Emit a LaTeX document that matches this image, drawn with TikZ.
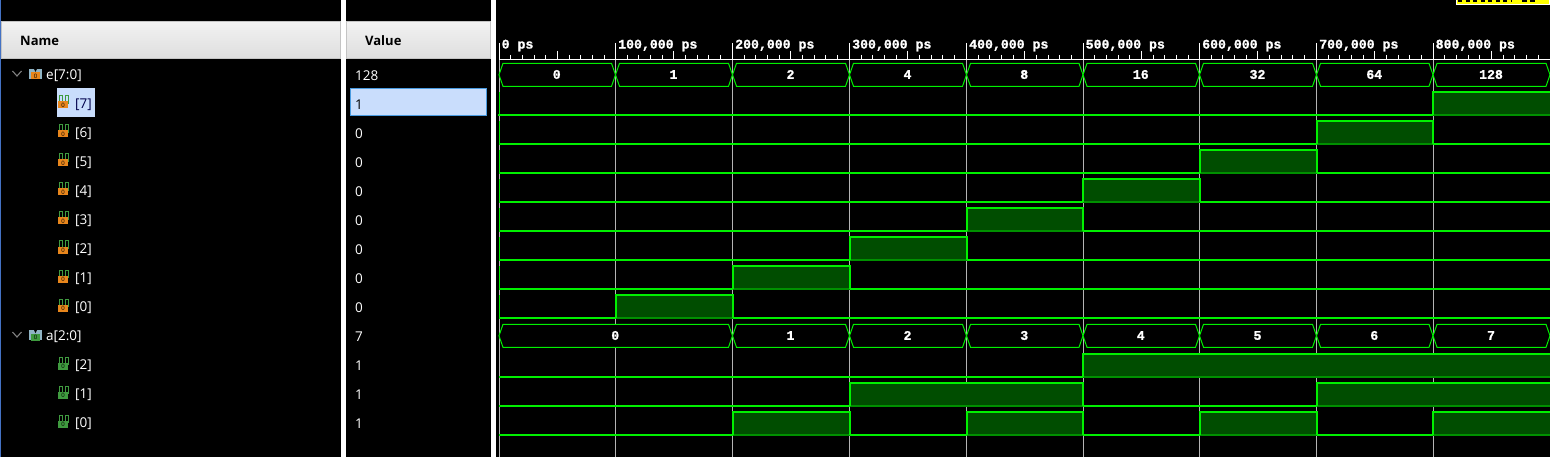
\documentclass[tikz,border=0pt]{standalone}
\usepackage{fontspec}
\setmainfont{Open Sans}
\newfontfamily\wavefont[BoldFeatures={FakeBold=1.2}]{Liberation Mono}
\usetikzlibrary{positioning}

\definecolor{wavegreen}{HTML}{00F000}
\definecolor{wavefill}{HTML}{004D00}
\definecolor{waveedge}{HTML}{009000}
\definecolor{gridgray}{HTML}{B4B4B4}
\definecolor{headtop}{HTML}{F2F2F2}
\definecolor{headbot}{HTML}{DEDEDE}
\definecolor{headline}{HTML}{C4C4C4}
\definecolor{selfill}{HTML}{C9DDFC}
\definecolor{selline}{HTML}{4A9BE0}
\definecolor{inorange}{HTML}{E8861C}
\definecolor{outgreen}{HTML}{3F9A3F}
\definecolor{busblue}{HTML}{8FB3C4}
\definecolor{cursor}{HTML}{FFFF00}
\definecolor{edgeblue}{HTML}{4472C4}

\tikzset{
  x=1pt,y=-1pt,
  headcell/.style={draw=headline,line width=1pt,top color=headtop,bottom color=headbot},
  headtext/.style={anchor=west,text=black,font=\fontsize{13}{15}\selectfont\bfseries},
  signame/.style={anchor=west,text=white,inner sep=0pt,font=\fontsize{13.5}{16}\selectfont},
  sigval/.style={anchor=west,text=white,inner sep=0pt,font=\fontsize{13.5}{16}\selectfont},
  timelab/.style={anchor=west,text=white,inner sep=0pt,font=\wavefont\fontsize{13.2}{15}\selectfont\bfseries},
  buslab/.style={text=white,inner sep=0pt,font=\wavefont\fontsize{13.2}{15}\selectfont\bfseries},
  lowline/.style={wavegreen,line width=1.2pt},
  chevron/.style={draw=gray,line width=1.1pt},
  pics/busicon/.style={code={
    \fill[busblue] (0,-6) rectangle (13,4);
    \fill[black] (5,-6) -- (6.5,-3) -- (8,-6) -- cycle;
    \node[fill=#1,minimum width=9pt,minimum height=7pt,inner sep=0pt,text=black,font=\fontsize{6}{6}\selectfont] at (6.5,1) {\ifx#1inorange I\else 0\fi};
  }},
  pics/biticon/.style={code={
    \draw[outgreen,line width=1pt] (1,1) -- (1,-7) -- (4,-7) -- (4,1);
    \draw[outgreen,line width=1pt] (7,1) -- (7,-7) -- (10,-7) -- (10,1);
    \node[fill=#1,minimum width=10pt,minimum height=7pt,inner sep=0pt,text=black,font=\fontsize{6}{6}\selectfont] at (5,2) {\ifx#1inorange I\else 0\fi};
  }},
}

\begin{document}
\begin{tikzpicture}

  \useasboundingbox (0,0) rectangle (1550,457);
  \fill[black] (0,0) rectangle (1550,457);
  \fill[edgeblue] (0,0) rectangle (1,457);
  \fill[white] (341,0) rectangle (346,457);
  \fill[white] (491,0) rectangle (496,457);

  % cursor tag, cut off by the top edge
  \fill[white] (1456,0) rectangle (1550,5);
  \fill[cursor] (1457,0) rectangle (1549,4);
  \draw[black,line width=1.6pt,dash pattern=on 4pt off 3.5pt] (1458,0.8) -- (1512,0.8);
  \draw[black,line width=1.6pt,dash pattern=on 5pt off 3pt] (1522,0.8) -- (1537,0.8);

  % headers
  \path[headcell] (1.5,21.5) rectangle (340.5,58.5);
  \path[headcell] (346.5,21.5) rectangle (490.5,58.5);
  \node[headtext,inner sep=0pt] (Hname) at (20,41) {Name};
  \node[headtext,inner sep=0pt] (Hvalue) at (365,41) {Value};

  % selected row
  \fill[selfill] (57,88) rectangle (95,117);
  \path[draw=selline,fill=selfill,line width=1pt] (350.5,88.5) rectangle (486.5,116);

  % names and values
  \draw[chevron] (12.5,71) -- (17,76) -- (21.5,71);
  \draw[chevron] (12.5,332) -- (17,337) -- (21.5,332);
  \pic at (29,75) {busicon=inorange};
  \pic at (29,336) {busicon=outgreen};
  \node[signame] (Ne) at (46,76) {e[7:0]};
  \node[signame] (Na) at (46,337) {a[2:0]};
  \node[sigval] (Ve) at (355,76) {128};
  \node[sigval] (Va) at (355,337) {7};
  \foreach \bit/\yc/\val in {7/103/1,6/132/0,5/161/0,4/190/0,3/219/0,2/248/0,1/277/0,0/306/0} {
    \pic at (58,\yc) {biticon=inorange};
    \ifnum\bit=7
      \node[signame,text=black!70!blue] (Ne\bit) at (75,\yc+2) {[\bit]};
      \node[sigval,text=black] (Ve\bit) at (355,\yc+2) {\val};
    \else
      \node[signame] (Ne\bit) at (75,\yc+2) {[\bit]};
      \node[sigval] (Ve\bit) at (355,\yc+2) {\val};
    \fi
  }
  \foreach \bit/\yc/\val in {2/364/1,1/393/1,0/422/1} {
    \pic at (58,\yc) {biticon=outgreen};
    \node[signame] (Na\bit) at (75,\yc+2) {[\bit]};
    \node[sigval] (Va\bit) at (355,\yc+2) {\val};
  }

  % time grid and ruler
  \foreach \gx/\stamp in {499/0 ps,615.5/{100,000 ps},732.5/{200,000 ps},849.5/{300,000 ps},966.5/{400,000 ps},1083/{500,000 ps},1199.5/{600,000 ps},1316.5/{700,000 ps},1433/{800,000 ps}} {
    \draw[white,line width=1pt] (\gx,43) -- (\gx,59);
    \draw[gridgray,line width=1pt] (\gx,59) -- (\gx,457);
    \node[timelab] at (\gx+2.5,45.5) {\stamp};
    \foreach \k in {1,...,9}
      \draw[white,line width=1pt] (\gx+11.67*\k,55) -- (\gx+11.67*\k,59);
    \draw[white,line width=1pt] (\gx+58.3,51) -- (\gx+58.3,59);
  }
  \draw[white,line width=1.2pt] (499,59.5) -- (1550,59.5);

  % high levels, fill over the grid
  \foreach \xa/\xb/\yt in {1433/1551/92,1316.5/1433/121,1199.5/1316.5/150,1083/1199.5/179,966.5/1083/208,849.5/966.5/237,732.5/849.5/266,615.5/732.5/295,
                           1083/1551/354,849.5/1083/383,1316.5/1551/383,732.5/849.5/412,966.5/1083/412,1199.5/1316.5/412,1433/1551/412}
    \fill[wavefill] (\xa,\yt) rectangle (\xb,\yt+23);

  % low levels
  \draw[wavegreen,line width=2pt] (498,115) -- (1433,115);
  \foreach \yl in {144,173,...,318}
    \draw[lowline] (499,\yl) -- (1550,\yl);
  \foreach \yl in {377,406,435}
    \draw[lowline] (499,\yl) -- (1550,\yl);
  \foreach \yt in {92,121,...,295}
    \draw[wavegreen,line width=1pt] (499.3,\yt) -- (499.3,\yt+23);

  % high levels, edges
  \foreach \xa/\xb/\yt in {1316.5/1433/121,1199.5/1316.5/150,1083/1199.5/179,966.5/1083/208,849.5/966.5/237,732.5/849.5/266,615.5/732.5/295,
                           849.5/1083/383,732.5/849.5/412,966.5/1083/412,1199.5/1316.5/412} {
    \draw[waveedge,line width=1.3pt] (\xa,\yt+23) -- (\xb,\yt+23);
    \draw[wavegreen,line width=2pt] (\xa,\yt+23) -- (\xa,\yt) -- (\xb,\yt) -- (\xb,\yt+23);
  }
  \foreach \xa/\yt in {1433/92,1083/354,1316.5/383,1433/412} {
    \draw[waveedge,line width=1.3pt] (\xa,\yt+23) -- (1550,\yt+23);
    \draw[wavegreen,line width=2pt] (\xa,\yt+23) -- (\xa,\yt) -- (1550,\yt);
  }

  % bus rows
  \foreach \xa/\xb/\txt in {499/615.5/0,615.5/732.5/1,732.5/849.5/2,849.5/966.5/4,966.5/1083/8,1083/1199.5/16,1199.5/1316.5/32,1316.5/1433/64,1433/1550/128} {
    \draw[wavegreen,line width=1pt,fill=black] (\xa,74.8) -- (\xa+4,63.3) -- (\xb-4,63.3) -- (\xb,74.8) -- (\xb-4,86.3) -- (\xa+4,86.3) -- cycle;
    \node[buslab] (Be\txt) at ({(\xa+\xb)/2-0.5},74.5) {\txt};
  }
  \foreach \xa/\xb/\txt in {499/732.5/0,732.5/849.5/1,849.5/966.5/2,966.5/1083/3,1083/1199.5/4,1199.5/1316.5/5,1316.5/1433/6,1433/1550/7} {
    \draw[wavegreen,line width=1pt,fill=black] (\xa,335.8) -- (\xa+4,324.3) -- (\xb-4,324.3) -- (\xb,335.8) -- (\xb-4,347.3) -- (\xa+4,347.3) -- cycle;
    \node[buslab] (Ba\txt) at ({(\xa+\xb)/2-0.5},335.5) {\txt};
  }

\end{tikzpicture}
\end{document}
